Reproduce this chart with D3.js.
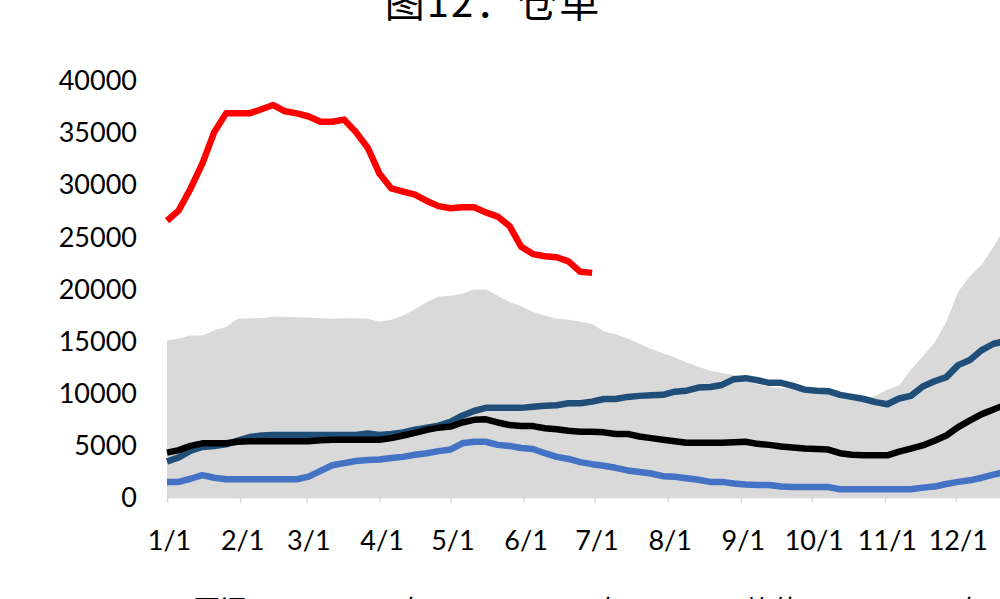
<!DOCTYPE html>
<html><head><meta charset="utf-8">
<script src="https://cdn.jsdelivr.net/npm/d3@7"></script>
<style>body{margin:0;background:#fff;overflow:hidden;} svg{display:block;}</style>
</head><body>
<svg id="chart" width="1000" height="599"></svg>
<script>
const title = "图12：仓单";
const dates = ["01-01","01-06","01-11","01-16","01-21","01-26","01-31","02-05","02-10","02-15",
"02-20","02-25","03-02","03-07","03-12","03-17","03-22","03-27","04-01","04-06",
"04-11","04-16","04-21","04-26","05-01","05-06","05-11","05-16","05-21","05-26",
"05-31","06-05","06-10","06-15","06-20","06-25","06-30","07-05","07-10","07-15",
"07-20","07-25","07-30","08-04","08-09","08-14","08-19","08-24","08-29","09-03",
"09-08","09-13","09-18","09-23","09-28","10-03","10-08","10-13","10-18","10-23",
"10-28","11-02","11-07","11-12","11-17","11-22","11-27","12-02","12-07","12-12",
"12-17","12-22","12-27"];
const monthTicks = ["01-01","02-01","03-01","04-01","05-01","06-01","07-01","08-01","09-01","10-01","11-01","12-01"];
const monthLabels = ["1/1","2/1","3/1","4/1","5/1","6/1","7/1","8/1","9/1","10/1","11/1","12/1"];
const yTicks = [0,5000,10000,15000,20000,25000,30000,35000,40000];
const legendLabels = ["2018-2022区间","2021年","2022年","均值","2023年"];

// range (upper bound of shaded band)
const rangeMax = [15000,15200,15500,15500,16000,16300,17100,17150,17150,17300,
17300,17250,17200,17150,17100,17150,17150,17100,16800,17000,
17400,18000,18700,19200,19300,19500,19900,19900,19300,18700,
18300,17750,17400,17100,17000,16800,16600,15900,15600,15200,
14700,14200,13800,13400,12900,12500,12100,11900,11700,11100,
10800,10600,10450,10350,10300,10200,10100,10000,9800,9500,
9700,10300,10700,12200,13500,14800,16800,19700,21200,22300,
24000,26000,27000];
// light blue
const s2021 = [1450,1450,1750,2100,1850,1700,1700,1700,1700,1700,
1700,1700,1950,2500,3050,3250,3450,3550,3600,3750,
3850,4050,4200,4400,4550,5150,5300,5300,5000,4900,
4700,4600,4200,3850,3650,3350,3150,3000,2800,2550,
2400,2250,2000,1950,1800,1650,1450,1450,1300,1200,
1150,1150,1000,950,950,950,950,750,750,750,
750,750,750,750,900,1000,1250,1450,1600,1850,
2150,2400,2500];
// dark blue
const s2022 = [3400,3800,4450,4800,4900,5050,5400,5750,5900,5950,
5950,5950,5950,5950,5950,5950,5950,6100,5950,6050,
6200,6450,6650,6850,7200,7800,8250,8550,8550,8550,
8550,8650,8750,8800,9000,9000,9150,9400,9400,9600,
9700,9750,9800,10100,10200,10500,10550,10750,11300,11400,
11200,10950,10950,10650,10300,10200,10150,9800,9600,9400,
9100,8900,9450,9700,10600,11100,11500,12650,13150,14100,
14700,14950,15100];
// average
const avg = [4250,4500,4900,5150,5150,5150,5300,5350,5350,5350,
5350,5350,5350,5450,5500,5500,5500,5500,5500,5650,
5900,6150,6450,6650,6750,7150,7400,7450,7150,6900,
6800,6800,6600,6500,6350,6250,6250,6200,6050,6050,
5800,5650,5500,5350,5200,5200,5200,5200,5250,5300,
5100,5000,4850,4750,4650,4600,4550,4200,4050,4000,
4000,4000,4350,4650,4950,5400,5900,6700,7350,7950,
8400,8850,9200];
// current year
const s2023 = [26500,27500,29600,32000,35000,36800,36800,36800,37200,37600,
37000,36800,36500,36000,36000,36200,35000,33500,31000,29600,
29300,29000,28400,27900,27700,27800,27800,27300,26900,26000,
24000,23300,23100,23000,22600,21600,21500];

const parse = d3.timeParse("%Y-%m-%d");
const toDate = s => parse("2023-" + s);
const svg = d3.select("#chart");
const x = d3.scaleTime().domain([new Date(2023,0,1), new Date(2024,0,1)]).range([167, 1029]);
const y = d3.scaleLinear().domain([0, 40000]).range([497, 80]);

const mk = arr => arr.map((v,i) => ({date: toDate(dates[i]), v}));

// area
svg.append("path").datum(mk(rangeMax))
  .attr("fill", "#D9D9D9")
  .attr("d", d3.area().x(d => x(d.date)).y0(y(0)).y1(d => y(d.v)));

// x axis
const xAxis = svg.append("g").attr("transform", `translate(0,${y(0)})`)
  .call(d3.axisBottom(x).tickValues(monthTicks.map(toDate))
    .tickFormat((d,i) => monthLabels[i]).tickSize(6).tickSizeOuter(0));
xAxis.select(".domain").attr("stroke", "#D9D9D9").attr("stroke-width", 1.5);
xAxis.selectAll(".tick line").attr("stroke", "#D9D9D9").attr("stroke-width", 1.5);
xAxis.selectAll(".tick text").attr("x", 2).attr("y", 53).attr("dy", 0)
  .attr("font-family", "Lato, 'Open Sans', sans-serif").attr("font-size", 27).attr("fill", "#000");

// y axis
const yAxis = svg.append("g").attr("transform", `translate(167,0)`)
  .call(d3.axisLeft(y).tickValues(yTicks).tickFormat(d3.format("d")).tickSize(0).tickPadding(30));
yAxis.select(".domain").remove();
yAxis.selectAll(".tick text").attr("dy", "0.36em")
  .attr("font-family", "Lato, 'Open Sans', sans-serif").attr("font-size", 27).attr("fill", "#000");

const line = d3.line().x(d => x(d.date)).y(d => y(d.v));
const series = [
  {data: s2021, color: "#4472C4"},
  {data: s2022, color: "#1F4E79"},
  {data: avg, color: "#000000"},
  {data: s2023, color: "#FF0000"}
];
series.forEach(s => {
  svg.append("path").datum(mk(s.data))
    .attr("fill", "none").attr("stroke", s.color)
    .attr("stroke-width", 6.5).attr("stroke-linejoin", "round")
    .attr("d", line);
});

// title
svg.append("text").attr("x", 493).attr("y", 17).attr("text-anchor", "middle")
  .attr("font-family", "'Noto Sans CJK SC', sans-serif").attr("font-size", 40).attr("fill", "#000")
  .attr("letter-spacing", 2)
  .text(title);

// legend (mostly below visible area)
const legendEnds = [247, 430, 627, 800, 988];
const legendColors = ["#D9D9D9", "#4472C4", "#1F4E79", "#000000", "#FF0000"];
legendLabels.forEach((lab, i) => {
  const t = svg.append("text").attr("x", legendEnds[i]).attr("y", 620).attr("text-anchor", "end")
    .attr("font-family", "'Noto Sans CJK SC', sans-serif").attr("font-size", 27).attr("fill", "#000")
    .text(lab);
  const w = t.node().getComputedTextLength();
  const mx = legendEnds[i] - w - 50;
  if (i === 0) svg.append("rect").attr("x", mx).attr("y", 602).attr("width", 40).attr("height", 16).attr("fill", legendColors[i]);
  else svg.append("line").attr("x1", mx).attr("x2", mx + 40).attr("y1", 610).attr("y2", 610)
    .attr("stroke", legendColors[i]).attr("stroke-width", 6.5);
});
</script>
</body></html>
